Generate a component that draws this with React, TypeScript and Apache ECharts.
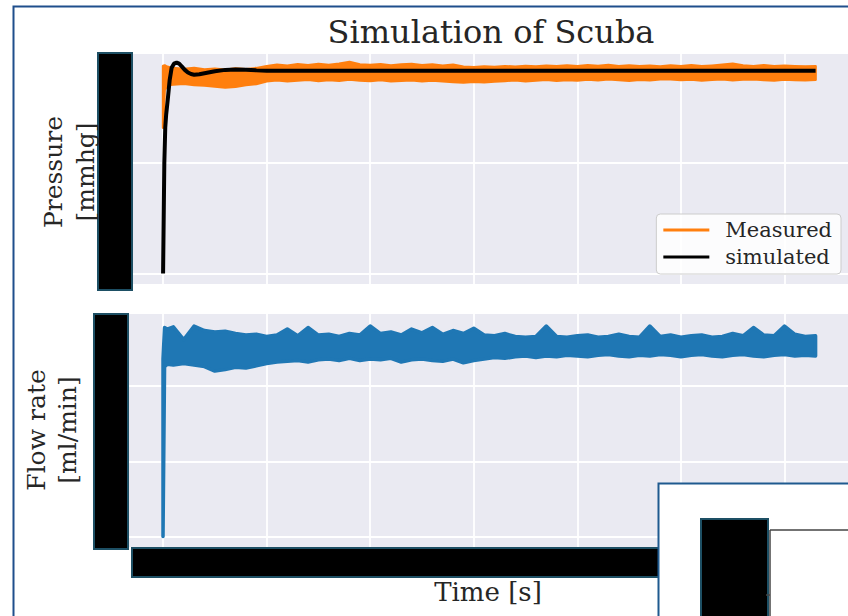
import React, { useEffect, useRef } from "react";
import * as echarts from "echarts";

// ---- data ----
const measTime = [0, 0.15, 0.4, 1, 2, 3, 4, 5, 6, 7, 8, 9, 10, 11, 12, 13, 14, 15, 16, 17, 18, 19, 20, 21, 22, 23, 24, 25, 26, 27, 28, 29, 30, 31, 32, 33, 34, 35, 36, 37, 38, 39, 40, 41, 42, 43, 44, 45, 46, 47, 48, 49, 50, 51, 52, 53, 54, 55, 56, 57, 58, 59, 60, 61, 62, 63];

const pressureUpper = [94.0, 94.2, 93.6, 93.0, 92.6, 93.1, 92.4, 92.7, 92.3, 92.8, 92.5, 93.0, 93.8, 94.5, 94.1, 94.7, 94.3, 94.9, 94.4, 95.0, 95.8, 94.6, 94.4, 94.7, 94.2, 94.6, 94.9, 94.3, 94.6, 94.1, 94.5, 93.6, 93.4, 93.7, 93.5, 93.9, 93.6, 94.0, 93.7, 94.1, 93.8, 94.2, 93.9, 94.3, 94.0, 94.4, 93.9, 94.2, 93.8, 94.1, 93.7, 94.2, 93.9, 94.3, 93.8, 94.1, 94.5, 95.0, 94.2, 93.9, 94.3, 93.8, 94.1, 93.9, 93.7, 93.9];
const pressureLower = [66.0, 83.0, 85.3, 85.6, 85.9, 85.4, 85.1, 84.7, 84.2, 84.6, 85.3, 85.8, 87.0, 87.5, 87.1, 87.4, 87.7, 87.2, 87.6, 87.3, 87.8, 87.4, 87.2, 87.6, 87.0, 87.3, 87.5, 87.1, 87.4, 87.0, 86.7, 86.5, 86.8, 86.6, 86.9, 87.2, 87.5, 87.1, 87.4, 87.7, 87.3, 87.6, 87.4, 87.8, 87.5, 87.9, 87.6, 87.3, 87.7, 87.5, 87.9, 88.0, 87.6, 87.8, 87.4, 87.7, 87.9, 87.5, 87.8, 88.0, 87.6, 87.4, 87.8, 87.6, 87.5, 87.7];

const simTime = [0, 0.12, 0.21, 0.3, 0.45, 0.64, 0.83, 1.05, 1.31, 1.55, 1.8, 2.1, 2.4, 2.7, 3.0, 3.5, 4.0, 5.0, 6.0, 7.0, 8.0, 9.0, 10, 63];
const simPressure = [0, 50, 66, 72, 78.6, 87.7, 93.2, 95.0, 95.5, 95.0, 93.8, 92.2, 91.0, 90.3, 90.0, 90.2, 90.7, 91.6, 92.2, 92.4, 92.3, 92.0, 91.8, 91.8];

const flowUpper = [118, 139, 138, 139.5, 131, 140, 137, 136, 136.5, 135, 134, 134.5, 133, 134, 138, 133.5, 139, 134, 134.5, 133, 135, 134, 140, 135, 136, 134, 138, 135.5, 139, 134.5, 137, 135, 138.5, 134, 133.5, 135, 133, 132.5, 133, 140, 133, 132.5, 133.5, 134, 132.5, 133, 134.5, 133, 132.5, 140, 133, 134, 132.5, 133.5, 134, 132.5, 133, 135, 133.5, 139, 134, 133.5, 140, 134.5, 133, 133.5];
const flowLower = [0, 113, 114.5, 114, 115, 114, 113, 110, 111, 112.5, 112, 113.5, 115, 116, 116.5, 117, 116, 117.5, 118, 117, 118.5, 117, 118, 117.5, 118.5, 116, 117.5, 118, 117, 116.5, 118, 115.5, 117, 118, 119, 118.5, 119.5, 120, 119, 120, 119.5, 120.5, 120, 119.5, 120.5, 121, 120, 119.5, 120.5, 120, 121, 120.5, 119.5, 120.5, 121, 120, 119.5, 120.5, 121, 120, 119.5, 120.5, 121, 120, 120.5, 120];

const timeGrid = [0, 10, 20, 30, 40, 50, 60];
const pressureGrid = [0, 50, 100];
const flowGrid = [0, 50, 100];

const SERIF = "DejaVu Serif";
const TXT = "#262626";
const ORANGE = "#ff7f0e";
const BLUE = "#1f77b4";
const BOX_STROKE = "#1d4f64";

function pairs(xs: number[], ys: number[]) {
  return xs.map((x, i) => [x, ys[i]]);
}

function gridMarks(xi: number) {
  return {
    type: "line",
    xAxisIndex: xi,
    yAxisIndex: xi,
    data: [],
    silent: true,
    markLine: {
      silent: true,
      z: 1,
      symbol: "none",
      animation: false,
      label: { show: false },
      lineStyle: { color: "#ffffff", width: 1.8, type: "solid" },
      data: [
        ...timeGrid.map((v) => ({ xAxis: v })),
        ...(xi === 0 ? pressureGrid : flowGrid).map((v) => ({ yAxis: v })),
      ],
    },
  };
}

// band between a lower and an upper envelope, drawn as one polygon via the axes' scales
function bandSeries(name: string, idx: number, times: number[], lo: number[], hi: number[], color: string, lw: number) {
  return {
    name,
    type: "custom",
    xAxisIndex: idx,
    yAxisIndex: idx,
    z: 3,
    silent: true,
    itemStyle: { color },
    data: [[times[0], lo[0]]],
    renderItem: (params: any, api: any) => {
      const pts: number[][] = [];
      for (let i = 0; i < times.length; i++) pts.push(api.coord([times[i], hi[i]]));
      for (let i = times.length - 1; i >= 0; i--) pts.push(api.coord([times[i], lo[i]]));
      return {
        type: "polygon",
        shape: { points: pts },
        style: { fill: color, stroke: color, lineWidth: lw, lineJoin: "round" },
      };
    },
  };
}

const box = (x: number, y: number, w: number, h: number) => ({
  type: "rect",
  z: 100,
  shape: { x, y, width: w, height: h },
  style: { fill: "#000", stroke: BOX_STROKE, lineWidth: 2 },
});

export default function App() {
  const ref = useRef<HTMLDivElement>(null);
  useEffect(() => {
    const chart = echarts.init(ref.current!, null, { renderer: "svg" });
    const option: any = {
      animation: false,
      backgroundColor: "#ffffff",
      title: {
        text: "Simulation of Scuba",
        left: 486,
        top: 11,
        textAlign: "center",
        textStyle: { fontFamily: SERIF, fontSize: 32, fontWeight: "normal", color: TXT },
      },
      legend: {
        data: ["Measured", "simulated"],
        orient: "vertical",
        right: 7,
        top: 214,
        icon: "rect",
        itemWidth: 46,
        itemHeight: 3,
        itemGap: 3,
        selectedMode: false,
        padding: [4, 9, 5, 7],
        backgroundColor: "rgba(255,255,255,0.85)",
        borderColor: "#cccccc",
        borderWidth: 1,
        borderRadius: 4,
        textStyle: { fontFamily: SERIF, fontSize: 21, color: TXT, lineHeight: 24, padding: [0, 0, 0, 11] },
      },
      grid: [
        { left: 132, right: -5, top: 52, height: 232, show: true, backgroundColor: "#eaeaf2", borderWidth: 0 },
        { left: 128, right: -5, top: 314, height: 233, show: true, backgroundColor: "#eaeaf2", borderWidth: 0 },
      ],
      xAxis: [
        { type: "value", gridIndex: 0, min: -3.0, max: 66.13, axisLine: { show: false }, axisTick: { show: false }, axisLabel: { show: false }, splitLine: { show: false } },
        {
          type: "value", gridIndex: 1, min: -3.38, max: 66.13,
          axisLine: { show: false }, axisTick: { show: false }, axisLabel: { show: false }, splitLine: { show: false },
          name: "Time [s]", nameLocation: "middle", nameGap: 32,
          nameTextStyle: { fontFamily: SERIF, fontSize: 26, color: TXT },
        },
      ],
      yAxis: [
        { type: "value", gridIndex: 0, min: -4.8, max: 100.3, axisLine: { show: false }, axisTick: { show: false }, axisLabel: { show: false }, splitLine: { show: false } },
        { type: "value", gridIndex: 1, min: -7, max: 148, axisLine: { show: false }, axisTick: { show: false }, axisLabel: { show: false }, splitLine: { show: false } },
      ],
      series: [
        gridMarks(0),
        gridMarks(1),
        bandSeries("Measured", 0, measTime, pressureLower, pressureUpper, ORANGE, 2.5),
        {
          name: "simulated", type: "line", xAxisIndex: 0, yAxisIndex: 0, z: 5,
          data: pairs(simTime, simPressure), showSymbol: false,
          lineStyle: { color: "#000000", width: 4 }, itemStyle: { color: "#000000" },
        },
        bandSeries("Flow", 1, measTime, flowLower, flowUpper, BLUE, 3.5),
      ],
      graphic: [
        {
          type: "rect", z: 100,
          shape: { x: 13.5, y: 6.5, width: 900, height: 700 },
          style: { fill: "none", stroke: "#1f4f8c", lineWidth: 2 },
        },
        box(98, 53, 34, 237),
        box(94, 314, 34, 235),
        box(132, 548, 527, 29),
        {
          type: "rect", z: 101,
          shape: { x: 658.5, y: 483.5, width: 300, height: 300 },
          style: { fill: "#ffffff", stroke: "#1f5a8f", lineWidth: 2 },
        },
        { ...box(701, 519, 67, 120), z: 102 },
        { type: "line", z: 102, shape: { x1: 770, y1: 530, x2: 860, y2: 530 }, style: { stroke: "#444", lineWidth: 1.5 } },
        { type: "line", z: 102, shape: { x1: 770, y1: 530, x2: 770, y2: 630 }, style: { stroke: "#444", lineWidth: 1.5 } },
        { type: "line", z: 102, shape: { x1: 766, y1: 595, x2: 770, y2: 595 }, style: { stroke: "#444", lineWidth: 1.5 } },
        {
          type: "text", z: 100, x: 69, y: 172, rotation: Math.PI / 2,
          style: { text: "Pressure\n[mmhg]", fontFamily: SERIF, fontSize: 25, lineHeight: 32, fill: TXT, align: "center", verticalAlign: "middle" },
        },
        {
          type: "text", z: 100, x: 52, y: 430, rotation: Math.PI / 2,
          style: { text: "Flow rate\n[ml/min]", fontFamily: SERIF, fontSize: 25, lineHeight: 31, fill: TXT, align: "center", verticalAlign: "middle" },
        },
      ],
    };
    chart.setOption(option);
    return () => chart.dispose();
  }, []);
  return (
    <div
      ref={ref}
      style={{ position: "absolute", left: 0, top: 0, width: 848, height: 616, background: "#fff" }}
    />
  );
}
